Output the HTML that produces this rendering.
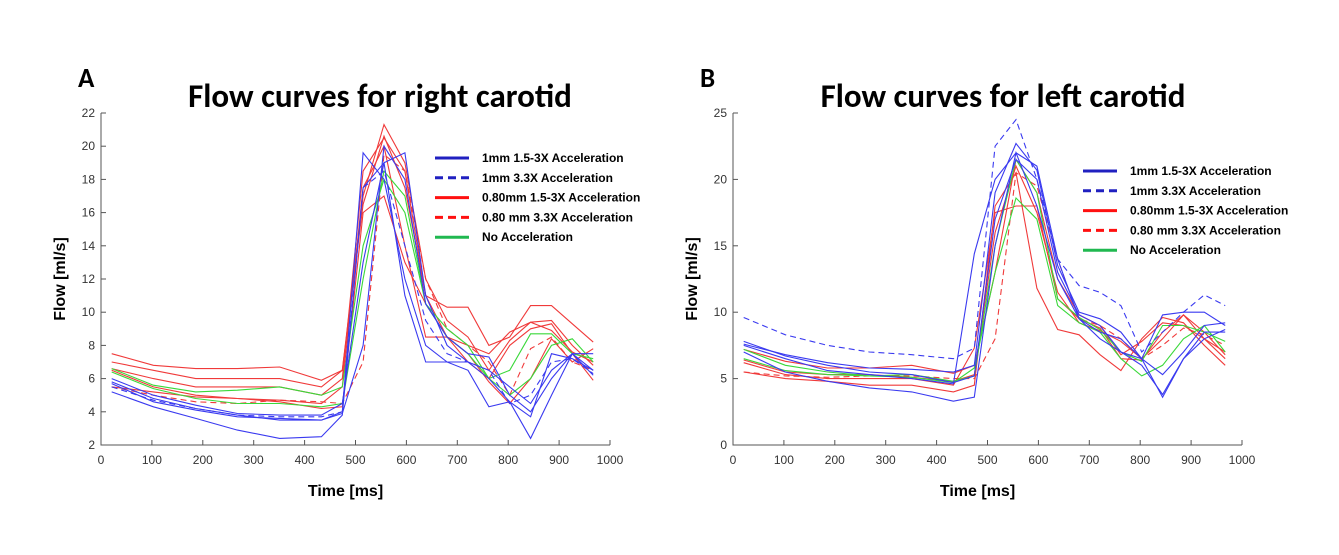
<!DOCTYPE html>
<html><head><meta charset="utf-8"><style>
body{margin:0;background:#fff;}
svg{display:block;font-family:"Liberation Sans",Arial,sans-serif;}
.tk{font-size:12px;fill:#333;}
.title{font-family:Calibri,"Liberation Sans",sans-serif;font-weight:bold;font-size:33px;fill:#000;}
.lab{font-weight:bold;font-size:16px;fill:#000;}
.leg{font-weight:bold;font-size:12px;fill:#000;}
</style></head><body>
<svg id="chart" width="1339" height="555" viewBox="0 0 1339 555"></svg>
<script>
const times=[21,103,186,268,351,433,474,515,556,597,638,680,721,762,803,844,885,926,967];
// Panel A (right carotid)
const aBlue1=[5.2,4.3,3.6,2.9,2.4,2.5,3.8,17.5,19.0,11,7.0,7.0,6.5,4.3,4.6,2.4,5.0,7.5,7.5];
const aBlue2=[5.7,4.6,4.1,3.7,3.6,3.5,4.0,19.6,18.0,12,8.0,7.0,7.0,6.0,4.6,3.7,7.5,7.2,6.5];
const aBlue3=[6.0,5.0,4.4,3.9,3.8,3.8,4.5,13.0,19.0,19.6,11,8.0,7.0,6.5,5.5,4.5,6.5,7.5,6.5];
const aBlue4=[5.8,4.8,4.2,3.8,3.5,3.5,3.9,8.0,20.0,18.0,10.5,8.5,7.5,7.3,5.0,4.0,6.0,7.5,6.2];
const aBlueD=[5.5,4.7,4.2,3.8,3.7,3.7,4.0,17.5,18.5,14,9.5,7.5,7.0,6.5,4.5,5.0,7.0,7.2,6.3];
const aRed1=[7.5,6.8,6.6,6.6,6.7,5.9,6.5,16.5,20.6,17.5,11,10.3,10.3,8.0,8.5,10.4,10.4,9.3,8.2];
const aRed2=[7.0,6.5,6.0,6.0,6.0,5.5,6.5,17,21.3,19,12,9.5,8.5,6.5,8.3,9.4,9.5,8.0,6.8];
const aRed3=[6.6,6.0,5.5,5.5,5.5,5.0,6.0,18.5,20.5,18.5,11,8.5,7.0,6.0,8.0,9.0,9.3,7.5,5.9];
const aRed4=[5.5,5.2,4.9,4.8,4.7,4.5,5.5,17.5,20.0,14,8.5,8.5,8.0,7.5,8.8,9.4,8.9,7.6,7.0];
const aRed5=[6.5,5.5,5.0,4.8,4.6,4.2,4.3,16.0,17.0,13,10.5,8.5,7.5,5.8,4.5,6.0,8.4,7.0,7.8];
const aRedD=[5.5,5.0,4.6,4.5,4.7,4.6,4.5,7.0,19.5,18.5,12,9.0,8.0,7.0,5.0,7.8,8.5,7.0,6.5];
const aGreen1=[6.6,5.6,5.2,5.3,5.5,5.0,5.5,14,18,16,10.5,9,8.0,6.0,6.5,8.7,8.7,7.5,7.2];
const aGreen2=[6.4,5.4,4.8,4.5,4.5,4.3,4.5,12,18.5,17,10.5,8.5,7.5,6.0,5.0,6.0,8.0,8.4,7.0];
// Panel B (left carotid)
const bBlueD=[9.6,8.3,7.5,7.0,6.8,6.5,7.3,22.5,24.5,20,14,12,11.5,10.5,7,8.5,10,11.3,10.5];
const bBlue1=[7.6,6.8,6.2,5.8,5.7,5.5,6.0,19,22.7,20.7,13.5,10,9.5,8.5,6.5,9.8,10,10,9.0];
const bBlue2=[7.5,6.5,5.6,5.3,5.0,4.6,14.4,20,22,21,14,9.5,8.0,7.0,6.5,3.6,6.5,8.0,8.7];
const bBlue3=[7.0,5.5,4.8,4.3,4.0,3.3,3.6,15,22,18,12.5,9.5,8.5,8.0,6.5,5.3,7.0,9,9.2];
const bBlue4=[7.8,6.7,6.0,5.5,5.3,4.7,5.2,17,21.5,20,13,9.8,9.0,7.0,6.0,3.8,6.5,8.5,8.5];
const bRed1=[5.5,5.0,4.8,4.5,4.5,4.0,4.5,18,20.5,11.8,8.7,8.3,6.8,5.6,8.0,9.6,9.2,7.5,6.0];
const bRed2=[6.2,5.3,5.0,5.0,5.0,4.5,7.3,17.5,18.0,18,11,9.5,8.8,6.5,6.4,8.5,9.8,8.0,7.0];
const bRed3=[7.2,6.3,5.8,5.8,6.0,5.4,6.0,13,21.5,19,12.5,9.8,9.0,6.8,7.8,9.2,9.0,8.0,6.5];
const bRed4=[6.4,5.5,5.3,5.3,5.1,4.8,5.3,16,21.0,17.5,11.5,9.2,8.6,7.8,6.5,8.0,9.8,8.5,6.8];
const bRedD=[5.5,5.2,5.1,5.2,5.2,5.0,5.0,8.0,20.5,19.5,14,9.5,9.0,8.0,6.5,7.5,8.8,8.3,7.5];
const bGreen1=[7.2,6.0,5.5,5.2,5.1,4.7,5.8,13,18.6,17,10.5,9.2,8.5,6.5,5.2,6.0,8.0,9.0,7.0];
const bGreen2=[6.5,5.6,5.3,5.2,5.3,4.8,5.2,15,21.5,19,11,9.6,8.7,7.0,6.3,9.0,9.0,8.5,7.8];
const xTicks=[0,100,200,300,400,500,600,700,800,900,1000];
const aYTicks=[2,4,6,8,10,12,14,16,18,20,22];
const bYTicks=[0,5,10,15,20,25];
const legendLabels=["1mm 1.5-3X Acceleration","1mm 3.3X Acceleration","0.80mm 1.5-3X Acceleration","0.80 mm 3.3X Acceleration","No Acceleration"];

const NS="http://www.w3.org/2000/svg";
const svg=document.getElementById('chart');
function mk(tag,attrs,parent){const e=document.createElementNS(NS,tag);for(const k in attrs)e.setAttribute(k,attrs[k]);(parent||svg).appendChild(e);return e;}
const BL="#3a3af0",RD="#f03a3a",GR="#3ad83a";
function panel(p){
  const g=mk('g',{});
  
  
  const xs=v=>p.x0+(v-0)/1000*(p.x1-p.x0);
  const ys=v=>p.y1-(v-p.ymin)/(p.ymax-p.ymin)*(p.y1-p.y0);
  let ax=mk('path',{d:`M${p.x0},${p.y0}V${p.y1}H${p.x1}`,stroke:'#555',fill:'none','stroke-width':1},g);
  
  xTicks.forEach(v=>{const X=xs(v);mk('line',{x1:X,x2:X,y1:p.y1,y2:p.y1-5,stroke:'#555'},g);
    const t=mk('text',{x:X,y:p.y1+19,'text-anchor':'middle',class:'tk'},g);t.textContent=v;
    });
  p.yt.forEach(v=>{const Y=ys(v);mk('line',{x1:p.x0,x2:p.x0+5,y1:Y,y2:Y,stroke:'#555'},g);
    const t=mk('text',{x:p.x0-6,y:Y+4,'text-anchor':'end',class:'tk'},g);t.textContent=v;
    });
  p.series.forEach(s=>{
    const d=s.v.map((v,i)=>(i?'L':'M')+xs(times[i]).toFixed(1)+','+ys(v).toFixed(1)).join('');
    const l=mk('path',{d:d,stroke:s.c,fill:'none','stroke-width':1.1,'stroke-dasharray':s.dash?'6,4':'none'},g);
    
  });
  const lc=["#2020c0","#2020c0","#ff1010","#ff1010","#20b850"];
  legendLabels.forEach((lab,i)=>{const Y=p.ly+i*19.8;
    const ln=mk('line',{x1:p.lx,x2:p.lx+34,y1:Y,y2:Y,stroke:lc[i],'stroke-width':3,'stroke-dasharray':(i==1||i==3)?'8,5':'none'},g);
    
    const t=mk('text',{x:p.lx+47,y:Y+4,class:'leg'},g);t.textContent=lab;
    });
  let t=mk('text',{x:p.tx,y:107,'text-anchor':'middle',class:'title'},g);t.textContent=p.title;
  
  t=mk('text',{x:p.lbx,y:87,class:'title','style':'font-size:27px'},g);t.textContent=p.letter;
  
  t=mk('text',{x:(p.x0+p.x1)/2-10,y:496,'text-anchor':'middle',class:'lab'},g);t.textContent='Time [ms]';
  
  t=mk('text',{x:0,y:0,'text-anchor':'middle',class:'lab',transform:`translate(${p.x0-36},${(p.y0+p.y1)/2}) rotate(-90)`},g);t.textContent='Flow [ml/s]';
  
}
panel({name:'panel-a-right-carotid',x0:101,x1:610,y0:113,y1:445,ymin:2,ymax:22,yt:aYTicks,lx:435,ly:158,tx:380,lbx:78,letter:'A',title:'Flow curves for right carotid',
 series:[{v:aRed1,c:RD,n:'red-line-1'},{v:aRed2,c:RD,n:'red-line-2'},{v:aRed3,c:RD,n:'red-line-3'},{v:aRed4,c:RD,n:'red-line-4'},{v:aRed5,c:RD,n:'red-line-5'},{v:aRedD,c:RD,dash:1,n:'red-dashed-line'},
 {v:aGreen1,c:GR,n:'green-line-1'},{v:aGreen2,c:GR,n:'green-line-2'},
 {v:aBlue1,c:BL,n:'blue-line-1'},{v:aBlue2,c:BL,n:'blue-line-2'},{v:aBlue3,c:BL,n:'blue-line-3'},{v:aBlue4,c:BL,n:'blue-line-4'},{v:aBlueD,c:BL,dash:1,n:'blue-dashed-line'}]});
panel({name:'panel-b-left-carotid',x0:733,x1:1242,y0:113,y1:445,ymin:0,ymax:25,yt:bYTicks,lx:1083,ly:171,tx:1003,lbx:700,letter:'B',title:'Flow curves for left carotid',
 series:[{v:bRed1,c:RD,n:'red-line-1'},{v:bRed2,c:RD,n:'red-line-2'},{v:bRed3,c:RD,n:'red-line-3'},{v:bRed4,c:RD,n:'red-line-4'},{v:bRedD,c:RD,dash:1,n:'red-dashed-line'},
 {v:bGreen1,c:GR,n:'green-line-1'},{v:bGreen2,c:GR,n:'green-line-2'},
 {v:bBlue1,c:BL,n:'blue-line-1'},{v:bBlue2,c:BL,n:'blue-line-2'},{v:bBlue3,c:BL,n:'blue-line-3'},{v:bBlue4,c:BL,n:'blue-line-4'},{v:bBlueD,c:BL,dash:1,n:'blue-dashed-line'}]});
</script>
</body></html>
